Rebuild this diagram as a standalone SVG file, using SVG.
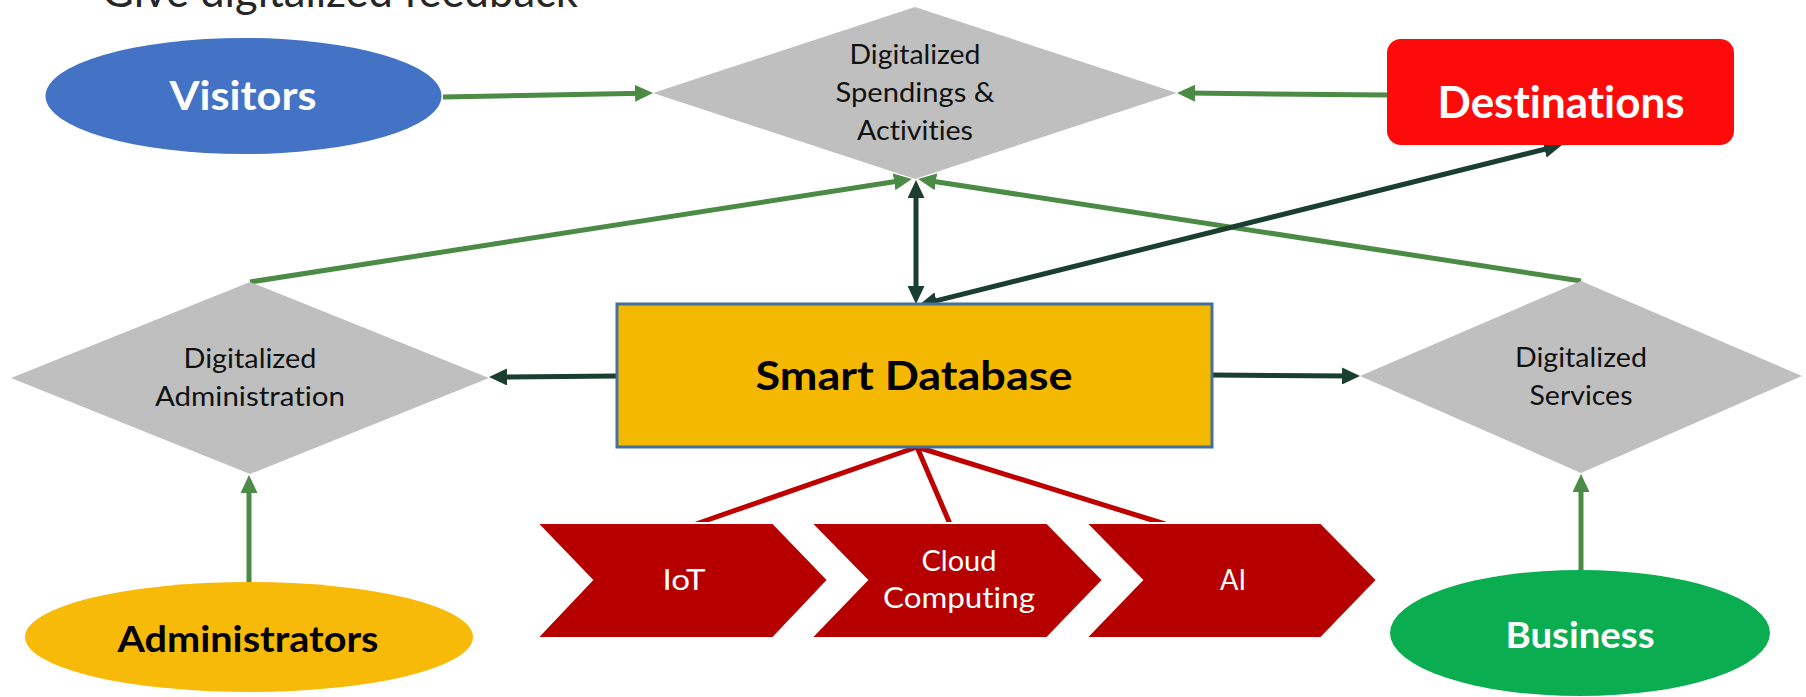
<svg xmlns="http://www.w3.org/2000/svg" width="1806" height="697" viewBox="0 0 1806 697">
  <style>
    text { font-family: Lato, "Open Sans", "Liberation Sans", sans-serif; text-anchor: middle; font-variant-ligatures: none; font-feature-settings: "liga" 0, "clig" 0, "dlig" 0; }
    .dia { fill: #BFBFBF; }
    .dlab { font-size: 27px; fill: #111111; }
    .big { font-size: 40px; font-weight: bold; }
    .chev { fill: #B60000; stroke: #FFFFFF; stroke-width: 2; }
    .clab { font-size: 29px; fill: #FFFFFF; }
    .g { stroke: #4B8B45; stroke-width: 5; fill: none; }
    .d { stroke: #1A3F30; stroke-width: 5; fill: none; }
    .r { stroke: #BE0000; stroke-width: 5; fill: none; }
  </style>
  <defs>
    <marker id="ag" viewBox="0 0 18 17" refX="8" refY="8.5" markerWidth="18" markerHeight="17" markerUnits="userSpaceOnUse" orient="auto-start-reverse">
      <path d="M0,0 L18,8.5 L0,17 z" fill="#4B8B45"/>
    </marker>
    <marker id="ad" viewBox="0 0 18 17" refX="8" refY="8.5" markerWidth="18" markerHeight="17" markerUnits="userSpaceOnUse" orient="auto-start-reverse">
      <path d="M0,0 L18,8.5 L0,17 z" fill="#1A3F30"/>
    </marker>
  </defs>
  <rect x="0" y="0" width="1806" height="697" fill="#FFFFFF"/>
  <text x="102" y="7" style="text-anchor:start;font-size:44px;fill:#262626" textLength="476" lengthAdjust="spacingAndGlyphs">Give digitalized feedback</text>

  <g id="connectors">
    <line class="g" x1="443" y1="97" x2="643" y2="93.2" marker-end="url(#ag)"/>
    <line class="g" x1="1387" y1="95" x2="1187" y2="93.1" marker-end="url(#ag)"/>
    <line class="g" x1="250" y1="282" x2="902" y2="180.5" marker-end="url(#ag)"/>
    <line class="g" x1="1581" y1="281" x2="928" y2="180.5" marker-end="url(#ag)"/>
    <line class="g" x1="249" y1="582" x2="249" y2="485" marker-end="url(#ag)"/>
    <line class="g" x1="1581" y1="570" x2="1581" y2="484" marker-end="url(#ag)"/>
    <line class="d" x1="916" y1="294" x2="916" y2="190" marker-start="url(#ad)" marker-end="url(#ad)"/>
    <line class="d" x1="928.7" y1="302.6" x2="1552.3" y2="147.4" marker-start="url(#ad)" marker-end="url(#ad)"/>
    <line class="d" x1="617" y1="376" x2="499" y2="377" marker-end="url(#ad)"/>
    <line class="d" x1="1212" y1="375" x2="1350" y2="376" marker-end="url(#ad)"/>
    <line class="r" x1="917" y1="447" x2="696" y2="524"/>
    <line class="r" x1="917" y1="447" x2="950" y2="524"/>
    <line class="r" x1="917" y1="447" x2="1165" y2="524"/>
  </g>

  <g id="visitors">
    <ellipse cx="243.5" cy="96" rx="198" ry="58" fill="#4472C4"/>
    <text class="big" x="243" y="110" fill="#FFFFFF" textLength="147" lengthAdjust="spacingAndGlyphs">Visitors</text>
  </g>
  <g id="spendings">
    <polygon class="dia" points="915,7 1177,93 915,179 653,93"/>
    <text class="dlab" x="915" y="64" textLength="131" lengthAdjust="spacingAndGlyphs">Digitalized</text>
    <text class="dlab" x="915" y="102" textLength="159" lengthAdjust="spacingAndGlyphs">Spendings &amp;</text>
    <text class="dlab" x="915" y="140" textLength="116" lengthAdjust="spacingAndGlyphs">Activities</text>
  </g>
  <g id="destinations">
    <rect x="1387" y="39" width="347" height="106" rx="14" fill="#FD0B0B"/>
    <text class="big" x="1561" y="118" fill="#FFFFFF" style="font-size:43px" textLength="247" lengthAdjust="spacingAndGlyphs">Destinations</text>
  </g>
  <g id="administration">
    <polygon class="dia" points="250,282 489,378 250,474 11,378"/>
    <text class="dlab" x="250" y="368" textLength="133" lengthAdjust="spacingAndGlyphs">Digitalized</text>
    <text class="dlab" x="250" y="406" textLength="190" lengthAdjust="spacingAndGlyphs">Administration</text>
  </g>
  <g id="smart-database">
    <rect x="617" y="304" width="595" height="143" fill="#F5B800" stroke="#41719C" stroke-width="3"/>
    <text class="big" x="914" y="390" fill="#000000" textLength="317" lengthAdjust="spacingAndGlyphs">Smart Database</text>
  </g>
  <g id="services">
    <polygon class="dia" points="1581,281 1802,376 1581,473 1360,376"/>
    <text class="dlab" x="1581" y="367" textLength="132" lengthAdjust="spacingAndGlyphs">Digitalized</text>
    <text class="dlab" x="1581" y="405" textLength="103" lengthAdjust="spacingAndGlyphs">Services</text>
  </g>
  <g id="iot">
    <polygon class="chev" points="537,523 773,523 828,580 773,638 537,638 592,580"/>
    <text class="clab" x="684" y="590" textLength="43" lengthAdjust="spacingAndGlyphs">IoT</text>
  </g>
  <g id="cloud-computing">
    <polygon class="chev" points="811,523 1047,523 1103,580 1047,638 811,638 867,580"/>
    <text class="clab" x="959" y="571" textLength="75" lengthAdjust="spacingAndGlyphs">Cloud</text>
    <text class="clab" x="959" y="608" textLength="152" lengthAdjust="spacingAndGlyphs">Computing</text>
  </g>
  <g id="ai">
    <polygon class="chev" points="1086,523 1321,523 1377,580 1321,638 1086,638 1142,580"/>
    <text class="clab" x="1233" y="590" textLength="26" lengthAdjust="spacingAndGlyphs">AI</text>
  </g>
  <g id="administrators">
    <ellipse cx="249" cy="637" rx="224" ry="55" fill="#F7BA08"/>
    <text class="big" x="248" y="652" fill="#000000" style="font-size:36px" textLength="261" lengthAdjust="spacingAndGlyphs">Administrators</text>
  </g>
  <g id="business">
    <ellipse cx="1580" cy="633" rx="190" ry="63" fill="#0AAD50"/>
    <text class="big" x="1580" y="648" fill="#FFFFFF" style="font-size:36px" textLength="149" lengthAdjust="spacingAndGlyphs">Business</text>
  </g>
</svg>
